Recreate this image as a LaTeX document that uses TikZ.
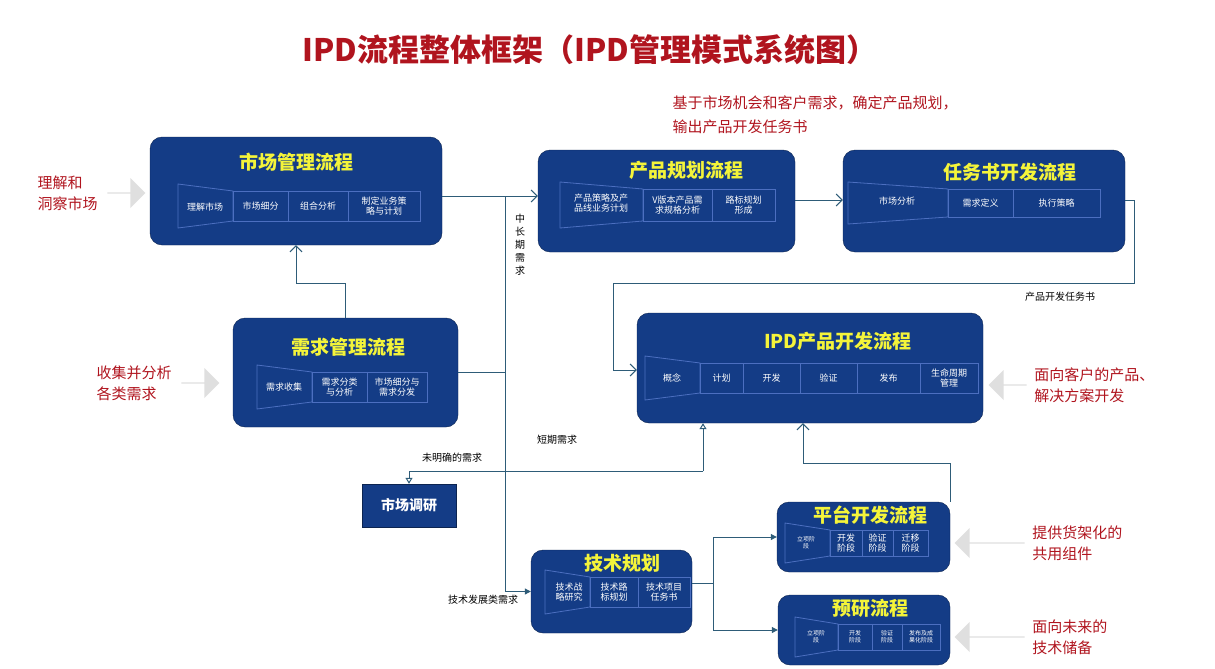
\documentclass[tikz,border=0pt]{standalone}
\usepackage{fontspec}
\setmainfont{Noto Sans CJK SC}
\usetikzlibrary{
  positioning,
  arrows.meta,
  shapes.arrows
}
\definecolor{procBlue}{HTML}{143C86}
\definecolor{stepLine}{HTML}{4C6FC0}
\definecolor{lineBlue}{HTML}{2E5C78}
\definecolor{noteRed}{HTML}{B0141E}
\definecolor{titleYellow}{HTML}{F4F43A}

% funnel at the start of a step bar: x0, x1, y, half height
\newcommand\funnel[4]{
  \draw[stepLine, line width=0.8pt] (#1,#3-#4-7) -- (#2,#3-#4) -- (#2,#3+#4) -- (#1,#3+#4+7) -- cycle;
}

\begin{document}
\begin{tikzpicture}[
    x=1pt,y=-1pt,
    procNode/.style={draw=procBlue!60!black,fill=procBlue,rounded corners=12pt,inner sep=0pt},
    procTitle/.style={text=titleYellow,font=\fontsize{19}{19}\selectfont\bfseries},
    stepNode/.style={draw=stepLine,line width=0.8pt,text=white,align=center,inner sep=1pt,
      font=\fontsize{9}{10.5}\selectfont},
    stepText/.style={text=white,align=center,font=\fontsize{9}{10.5}\selectfont},
    flow/.style={draw=lineBlue,line width=1pt},
    note/.style={text=noteRed,align=left,font=\fontsize{15}{21}\selectfont},
    label/.style={font=\fontsize{10}{12}\selectfont},
    bigArrow/.style={single arrow,fill=gray!25,draw=none,minimum height=38pt,minimum width=30pt,
      single arrow head extend=5pt,inner sep=0pt},
  ]
  \useasboundingbox (0,0) rectangle (1215,669);

  % title
  \node[text=noteRed,font=\fontsize{31}{31}\selectfont\bfseries] (title) at (590,50)
    {IPD流程整体框架（IPD管理模式系统图）};
  \node[note,font=\fontsize{15}{24}\selectfont] (planNote) at (815,115)
    {基于市场机会和客户需求，确定产品规划，\\输出产品开发任务书};

  % process boxes
  \node[procNode,minimum width=292,minimum height=108] (market) at (296,191) {};
  \node[procNode,minimum width=225,minimum height=109] (demand) at (345.5,372.5) {};
  \node[procNode,minimum width=257,minimum height=102] (plan) at (666.5,201) {};
  \node[procNode,minimum width=282,minimum height=102] (charter) at (984,201) {};
  \node[procNode,minimum width=346,minimum height=110] (ipd) at (810,368) {};
  \node[procNode,rounded corners=0pt,minimum width=94,minimum height=43,text=white,
    font=\fontsize{14}{14}\selectfont\bfseries] (survey) at (409,505.5) {市场调研};
  \node[procNode,minimum width=161,minimum height=83] (tech) at (611.5,591.5) {};
  \node[procNode,minimum width=173,minimum height=70] (platform) at (863.5,537) {};
  \node[procNode,minimum width=172,minimum height=70] (research) at (864,630) {};

  \node[procTitle] at (296,162) {市场管理流程};
  \node[procTitle] at (348,347) {需求管理流程};
  \node[procTitle] at (686,170) {产品规划流程};
  \node[procTitle] at (1010,172) {任务书开发流程};
  \node[procTitle] at (838,341) {IPD产品开发流程};
  \node[procTitle] at (622,563) {技术规划};
  \node[procTitle] at (870,515) {平台开发流程};
  \node[procTitle] at (870,608) {预研流程};

  % step bars
  \funnel{178}{233}{206}{15}
  \node[stepText] at (205,207) {理解市场};
  \foreach \t/\a/\b in {市场细分/233/288, 组合分析/288/348, 制定业务策\\略与计划/348/420}
    \node[stepNode,minimum width=\b-\a,minimum height=30] at ({(\a+\b)/2},206) {\t};

  \funnel{257}{312}{387}{15}
  \node[stepText] at (284,387) {需求收集};
  \foreach \t/\a/\b in {需求分类\\与分析/312/367, 市场细分与\\需求分发/367/427}
    \node[stepNode,minimum width=\b-\a,minimum height=30] at ({(\a+\b)/2},387) {\t};

  \funnel{560}{643}{205}{16}
  \node[stepText] at (601,203) {产品策略及产\\品线业务计划};
  \foreach \t/\a/\b in {V版本产品需\\求规格分析/643/712, 路标规划\\形成/712/775}
    \node[stepNode,minimum width=\b-\a,minimum height=32] at ({(\a+\b)/2},205) {\t};

  \funnel{848}{948}{203}{14}
  \node[stepText] at (897,201) {市场分析};
  \foreach \t/\a/\b in {需求定义/948/1013, 执行策略/1013/1100}
    \node[stepNode,minimum width=\b-\a,minimum height=28] at ({(\a+\b)/2},203) {\t};

  \funnel{645}{700}{378}{15}
  \node[stepText] at (672,378) {概念};
  \foreach \t/\a/\b in {计划/700/743, 开发/743/800, 验证/800/857, 发布/857/920, 生命周期\\管理/920/978}
    \node[stepNode,minimum width=\b-\a,minimum height=30] at ({(\a+\b)/2},378) {\t};

  \funnel{545}{590}{592}{15}
  \node[stepText] at (569,592) {技术战\\略研究};
  \foreach \t/\a/\b in {技术路\\标规划/590/638, 技术项目\\任务书/638/690}
    \node[stepNode,minimum width=\b-\a,minimum height=30] at ({(\a+\b)/2},592) {\t};

  \funnel{785}{830}{543}{13}
  \node[stepText,font=\fontsize{6}{7}\selectfont] at (806,543) {立项阶\\段};
  \foreach \t/\a/\b in {开发\\阶段/830/862, 验证\\阶段/862/893, 迁移\\阶段/893/928}
    \node[stepNode,minimum width=\b-\a,minimum height=26] at ({(\a+\b)/2},543) {\t};

  \funnel{795}{838}{637}{13}
  \node[stepText,font=\fontsize{6}{7}\selectfont] at (816,637) {立项阶\\段};
  \foreach \t/\a/\b in {开发\\阶段/838/872, 验证\\阶段/872/902, 发布及成\\果化阶段/902/940}
    \node[stepNode,minimum width=\b-\a,minimum height=26,font=\fontsize{6}{7}\selectfont] at ({(\a+\b)/2},637) {\t};

  % junction points
  \coordinate (trunk) at (505,196);
  \coordinate (shortDemand) at (703,471);
  \coordinate (platDemand) at (803,463);
  \coordinate (techFork) at (713,583);

  % connectors
  \draw[flow,-{Straight Barb[length=6pt]}] (market.east |- trunk) -- (plan.west |- trunk);
  \draw[flow,-{Straight Barb[length=6pt]}] (demand.north) |- (296,283) -- (market.south -| 296,0);
  \draw[flow] (demand.east) -- (demand.east -| trunk);
  \draw[flow,-{Triangle[length=6pt,width=6pt]}] (trunk) |- (tech.west);
  \draw[flow,-{Straight Barb[length=6pt]}] (plan.east |- 0,200) -- (charter.west |- 0,200);
  \draw[flow,-{Straight Barb[length=6pt]}] (charter.east |- 0,200) -| (1134,283) -| (613,370) -- (ipd.west |- 0,370);
  \draw[flow,-{Triangle[open,length=6pt,width=7pt]}] (shortDemand) -- (shortDemand |- ipd.south);
  \draw[flow,-{Triangle[open,length=6pt,width=7pt]}] (shortDemand) -| (survey.north);
  \draw[flow,-{Straight Barb[length=6pt]}] (platform.north -| 950,0) |- (platDemand) -- (platDemand |- ipd.south);
  \draw[flow] (tech.east |- techFork) -- (techFork);
  \draw[flow,-{Triangle[length=6pt,width=6pt]}] (techFork) |- (platform.west);
  \draw[flow,-{Triangle[length=6pt,width=6pt]}] (techFork) |- (research.west);

  % connector labels
  \node[label,align=center,font=\fontsize{10}{13}\selectfont] at (520,245) {中\\长\\期\\需\\求};
  \node[label] at (1060,297) {产品开发任务书};
  \node[label] at (557,440) {短期需求};
  \node[label] at (452,458) {未明确的需求};
  \node[label] at (483,600) {技术发展类需求};

  % inputs
  \node[bigArrow] (inMarket) at (126,193) {};
  \node[note,left=6pt of inMarket] {理解和\\洞察市场};
  \node[bigArrow] (inDemand) at (200,383) {};
  \node[note,left=6pt of inDemand] {收集并分析\\各类需求};
  \node[bigArrow,shape border rotate=180] (inIpd) at (1008,385) {};
  \node[note,right=4pt of inIpd] {面向客户的产品、\\解决方案开发};
  \node[bigArrow,shape border rotate=180,minimum height=70pt] (inPlat) at (990,543) {};
  \node[note,right=4pt of inPlat] {提供货架化的\\共用组件};
  \node[bigArrow,shape border rotate=180,minimum height=70pt] (inRes) at (990,637) {};
  \node[note,right=4pt of inRes] {面向未来的\\技术储备};
\end{tikzpicture}
\end{document}
